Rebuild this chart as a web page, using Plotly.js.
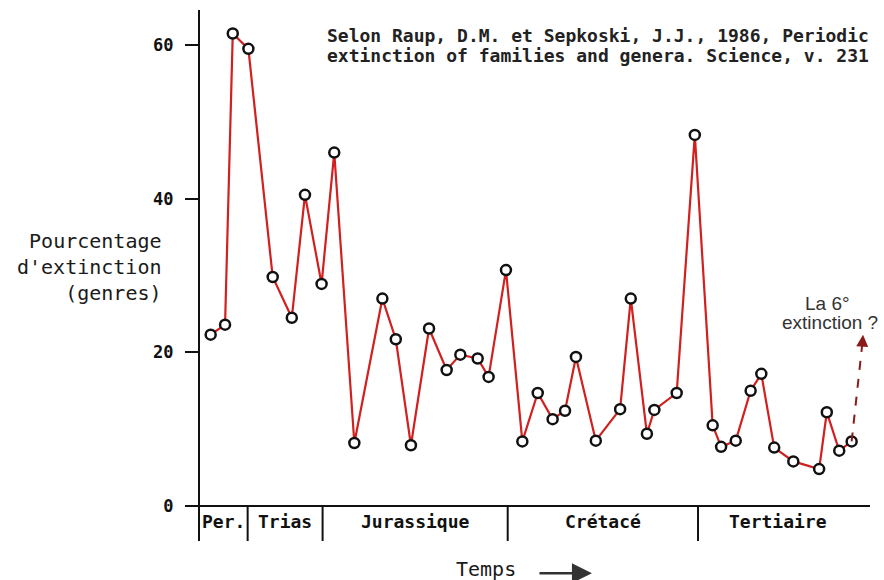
<!DOCTYPE html>
<html>
<head>
<meta charset="utf-8">
<script src="https://cdn.plot.ly/plotly-3.0.1.min.js"></script>
<style>html,body{margin:0;padding:0;background:#fff;}#chart{width:884px;height:580px;}</style>
</head>
<body>
<div id="chart"></div>
<script>
// Age (Ma before present) and extinction percentage (genera)
const ages = [265.7, 259.9, 256.8, 250.5, 240.7, 233.0, 227.7, 221.0, 215.9, 207.8,
              196.5, 191.1, 185.0, 177.7, 170.6, 165.1, 158.1, 153.7, 146.7, 140.1,
              133.9, 127.9, 122.9, 118.5, 110.5, 100.7, 96.4, 89.9, 86.9, 77.9,
              70.6, 63.4, 60.0, 54.1, 48.1, 43.8, 38.6, 30.9, 20.5, 17.4,
              12.4, 7.4];
const extinction = [22.3, 23.6, 61.5, 59.5, 29.8, 24.5, 40.5, 28.9, 46.0, 8.2,
                    27.0, 21.7, 7.9, 23.1, 17.7, 19.7, 19.2, 16.8, 30.7, 8.4,
                    14.7, 11.3, 12.4, 19.4, 8.5, 12.6, 27.0, 9.4, 12.5, 14.7,
                    48.3, 10.5, 7.7, 8.5, 15.0, 17.2, 7.6, 5.8, 4.8, 12.2,
                    7.2, 8.4];
const periods = ["Per.", "Trias", "Jurassique", "Crétacé", "Tertiaire"];
const periodLabelAges = [260.4, 235.7, 183.3, 107.7, 37.0];
const periodBoundaries = [250.8, 220.6, 146.0, 69.3];
const yTicks = [0, 20, 40, 60];
const sixthTip = {age: 2.8, value: 22.3};

const mono = "DejaVu Sans Mono, monospace";
const ink = "#111111";

const trace = {
  x: ages, y: extinction, type: "scatter", mode: "lines+markers",
  line: {color: "#d21f1f", width: 2.2},
  marker: {symbol: "circle", size: 10, color: "#ffffff", line: {color: "#111111", width: 2.5}},
  hoverinfo: "skip", cliponaxis: false
};

const shapes = periodBoundaries.map(a => ({
  type: "line", xref: "x", yref: "y", x0: a, x1: a, y0: 0, y1: -4.8,
  line: {color: ink, width: 2}
}));
// dashed projection towards the "6th extinction"
shapes.push({
  type: "line", xref: "x", yref: "y",
  x0: ages[ages.length - 1], y0: extinction[extinction.length - 1],
  x1: sixthTip.age + 0.3, y1: sixthTip.value - 1.2,
  line: {color: "#8b1a1a", width: 2, dash: "dash"}
});

const annotations = periods.map((p, i) => ({
  text: "<b>" + p + "</b>", x: periodLabelAges[i], y: -2.05, xref: "x", yref: "y",
  showarrow: false, xanchor: "center", yanchor: "middle",
  font: {family: mono, size: 18, color: ink}
}));

annotations.push(
  {text: "<b>Selon Raup, D.M. et Sepkoski, J.J., 1986, Periodic</b>", xref: "paper", yref: "paper",
   x: 0.1866, y: 0.9529, xanchor: "left", yanchor: "middle", showarrow: false,
   font: {family: mono, size: 18, color: "#222222"}},
  {text: "<b>extinction of families and genera. Science, v. 231</b>", xref: "paper", yref: "paper",
   x: 0.1866, y: 0.9134, xanchor: "left", yanchor: "middle", showarrow: false,
   font: {family: mono, size: 18, color: "#222222"}},
  {text: "Pourcentage<br>d'extinction<br>(genres)", xref: "paper", yref: "paper",
   x: -0.054, y: 0.516, xanchor: "right", yanchor: "middle", align: "right", showarrow: false,
   font: {family: mono, size: 20, color: "#1a1a1a"}},
  {text: "Temps", xref: "paper", yref: "paper",
   x: 0.427, y: -0.052, xanchor: "center", yanchor: "middle", showarrow: false,
   font: {family: mono, size: 20, color: "#1a1a1a"}},
  {text: "", xref: "paper", yref: "paper", x: 0.585, y: -0.0605,
   ax: -54, ay: 0, showarrow: true, arrowhead: 2, arrowsize: 1.6, arrowwidth: 2.5,
   arrowcolor: "#333333"},
  {text: "La 6°", xref: "x", yref: "y", x: 17.0, y: 26.3,
   xanchor: "center", yanchor: "middle", showarrow: false,
   font: {family: "Liberation Sans, Arial, sans-serif", size: 19, color: "#333333"}},
  {text: "extinction ?", xref: "x", yref: "y", x: 16.1, y: 23.9,
   xanchor: "center", yanchor: "middle", showarrow: false,
   font: {family: "Liberation Sans, Arial, sans-serif", size: 19, color: "#333333"}},
  {text: "", xref: "x", yref: "y", x: sixthTip.age, y: sixthTip.value,
   axref: "x", ayref: "y", ax: sixthTip.age + 0.35, ay: sixthTip.value - 1.6,
   showarrow: true, arrowhead: 2, arrowsize: 1.2, arrowwidth: 2, arrowcolor: "#8b1a1a"}
);

const layout = {
  width: 884, height: 580,
  margin: {l: 200, r: 14, t: 10, b: 39},
  paper_bgcolor: "#ffffff", plot_bgcolor: "#ffffff",
  showlegend: false, hovermode: false,
  xaxis: {range: [270, 0], showgrid: false, zeroline: false, showline: false,
          showticklabels: false, ticks: "", fixedrange: true},
  yaxis: {range: [-4.56, 64.56], tickvals: yTicks, ticktext: yTicks.map(v => "<b>" + v + "</b>"),
          ticks: "outside", ticklen: 13, tickwidth: 2, tickcolor: ink,
          ticklabelstandoff: 8,
          showline: true, linecolor: ink, linewidth: 2,
          showgrid: false, zeroline: true, zerolinecolor: ink, zerolinewidth: 2,
          tickfont: {family: mono, size: 17, color: ink}, fixedrange: true},
  shapes: shapes,
  annotations: annotations
};

Plotly.newPlot("chart", [trace], layout, {displayModeBar: false, staticPlot: true});
</script>
</body>
</html>
